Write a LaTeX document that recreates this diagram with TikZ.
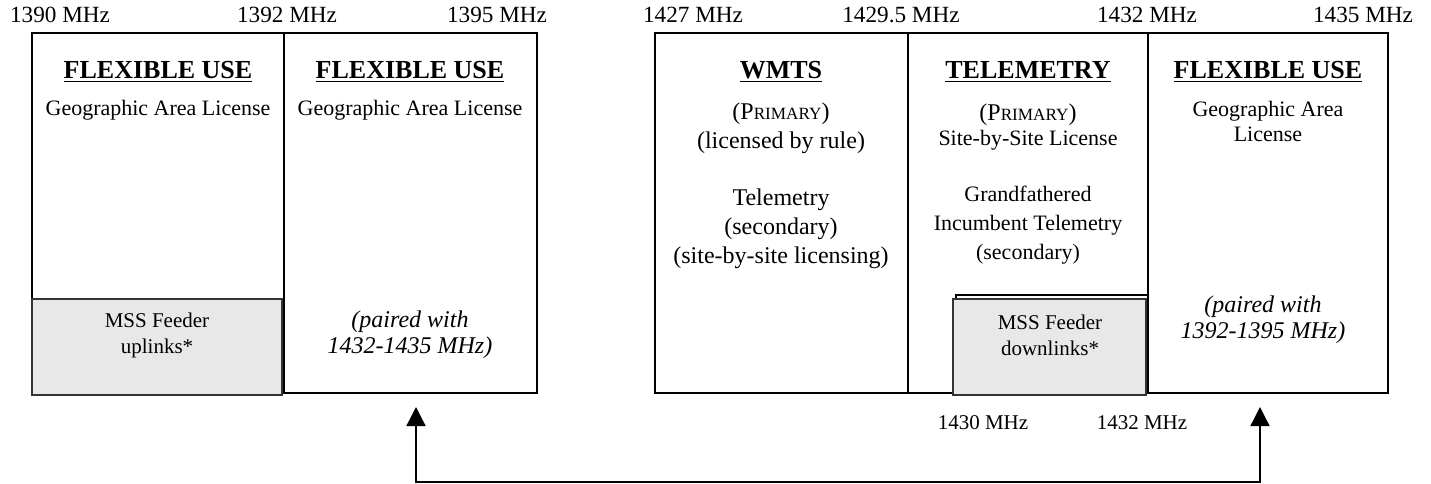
\documentclass[tikz,border=0pt]{standalone}
\usepackage{fontspec}
\setmainfont{Liberation Serif}
\usetikzlibrary{arrows.meta}
\definecolor{feederGray}{HTML}{E8E8E8}
\newcommand{\bandtitle}[1]{\underline{\textbf{#1}}}
\newcommand{\fakesc}[1]{{\fontsize{8.6}{10}\selectfont #1}}

\begin{document}
\begin{tikzpicture}[x=0.5pt, y=-0.5pt, >={Triangle[width=9.5pt,length=9.5pt]},
    band/.style={draw, line width=1pt},
    feeder/.style={draw=black!80, line width=0.8pt, fill=feederGray},
    freq/.style={font=\fontsize{11.6}{13}\selectfont},
    freqlow/.style={font=\fontsize{10.5}{12}\selectfont},
    head/.style={font=\fontsize{13}{15}\selectfont},
    body/.style={align=center, font=\fontsize{11}{12.5}\selectfont},
    bodybig/.style={align=center, font=\fontsize{12}{14.5}\selectfont},
    paired/.style={align=center, font=\fontsize{12}{13}\selectfont\itshape},
    feedtext/.style={align=center, font=\fontsize{10.5}{13}\selectfont}]

    \useasboundingbox (0,0) rectangle (1431,483);

    % lower band (1390-1395 MHz)
    \draw[band] (32,33) rectangle (537,393);
    \draw[band] (284,33) -- (284,393);
    \draw[feeder] (32,299) rectangle (282,395);

    % upper band (1427-1435 MHz)
    \draw[band] (655,33) rectangle (1388,393);
    \draw[band] (908,33) -- (908,393);
    \draw[band] (1148,33) -- (1148,393);
    \draw[band, fill=white] (956,295) rectangle (1148,393);
    \draw[feeder] (953,299) rectangle (1146,395);

    % band edges
    \node[freq] (f1390) at (60,15) {1390 MHz};
    \node[freq] (f1392) at (287,15) {1392 MHz};
    \node[freq] (f1395) at (497,15) {1395 MHz};
    \node[freq] (f1427) at (693,15) {1427 MHz};
    \node[freq] (f1429) at (901,15) {1429.5 MHz};
    \node[freq] (f1432) at (1147,15) {1432 MHz};
    \node[freq] (f1435) at (1363,15) {1435 MHz};
    \node[freqlow] (f1430low) at (983,423) {1430 MHz};
    \node[freqlow] (f1432low) at (1142,423) {1432 MHz};

    % 1390-1392 MHz
    \node[head] (flexA) at (158,72) {\bandtitle{FLEXIBLE USE}};
    \node[body] (geoA) at (158,110) {Geographic Area License};
    \node[feedtext] (uplinks) at (157,335) {MSS Feeder\\uplinks*};

    % 1392-1395 MHz
    \node[head] (flexB) at (410,72) {\bandtitle{FLEXIBLE USE}};
    \node[body] (geoB) at (410,110) {Geographic Area License};
    \node[paired] (pairB) at (410,335) {(paired with\\1432-1435 MHz)};

    % 1427-1429.5 MHz
    \node[head] (wmts) at (781,72) {\bandtitle{WMTS}};
    \node[bodybig] (wmtsPrim) at (781,128) {(P\fakesc{RIMARY})\\(licensed by rule)};
    \node[bodybig] (wmtsSec) at (781,229) {Telemetry\\(secondary)\\(site-by-site licensing)};

    % 1429.5-1432 MHz
    \node[head] (telem) at (1028,72) {\bandtitle{TELEMETRY}};
    \node[body] (telemPrim) at (1028,127) {{\fontsize{12}{13}\selectfont(P\fakesc{RIMARY})}\\Site-by-Site License};
    \node[body, font=\fontsize{11}{14.5}\selectfont] (telemSec) at (1028,225) {Grandfathered\\Incumbent Telemetry\\(secondary)};
    \node[feedtext] (downlinks) at (1050,335) {MSS Feeder\\downlinks*};

    % 1432-1435 MHz
    \node[head] (flexC) at (1268,72) {\bandtitle{FLEXIBLE USE}};
    \node[body] (geoC) at (1268,121) {Geographic Area\\License};
    \node[paired] (pairC) at (1263,320) {(paired with\\1392-1395 MHz)};

    % pairing
    \coordinate (tipB) at (416,407);
    \coordinate (tipC) at (1260,407);
    \coordinate (pairCorner) at (416,482);
    \draw[<->, line width=0.7pt] (tipB) -- (pairCorner) -| (tipC);

\end{tikzpicture}
\end{document}
